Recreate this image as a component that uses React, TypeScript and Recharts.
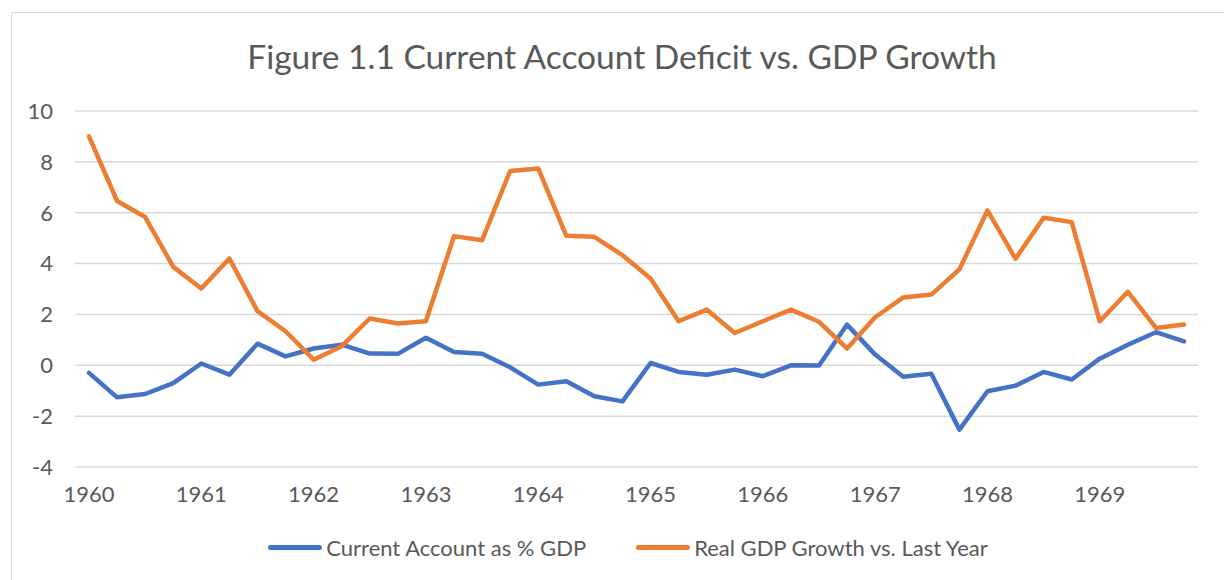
import React from "react";
import { LineChart, Line, XAxis, YAxis, CartesianGrid, Legend } from "recharts";

// quarterly observations, 1960Q1 .. 1969Q4
const years = ["1960", "1961", "1962", "1963", "1964", "1965", "1966", "1967", "1968", "1969"];

const currentAccount = [
  -0.3, -1.26, -1.13, -0.7, 0.07, -0.37, 0.85, 0.35, 0.66, 0.81,
  0.46, 0.45, 1.08, 0.52, 0.45, -0.08, -0.76, -0.63, -1.22, -1.42,
  0.09, -0.26, -0.37, -0.17, -0.43, 0.0, -0.01, 1.6, 0.42, -0.45,
  -0.33, -2.53, -1.02, -0.8, -0.26, -0.56, 0.26, 0.81, 1.3, 0.94,
];

const gdpGrowth = [
  9.0, 6.46, 5.83, 3.87, 3.02, 4.2, 2.13, 1.34, 0.22, 0.75,
  1.84, 1.64, 1.73, 5.08, 4.92, 7.64, 7.74, 5.09, 5.05, 4.33,
  3.41, 1.73, 2.19, 1.27, 1.73, 2.19, 1.71, 0.66, 1.89, 2.67,
  2.78, 3.77, 6.09, 4.19, 5.8, 5.63, 1.73, 2.89, 1.47, 1.6,
];

const yTicks = [-4, -2, 0, 2, 4, 6, 8, 10];

const FONT = "Lato, 'Open Sans', sans-serif";
const TEXT = "#595959";
const BLUE = "#4472C4";
const ORANGE = "#ED7D31";

const data = currentAccount.map((ca, i) => ({
  q: i,
  ca,
  gdp: gdpGrowth[i],
}));

const yearLabel = (i: number) => (i % 4 === 0 ? years[i / 4] : "");

function LegendContent({ payload }: any) {
  return (
    <div style={{ display: "flex", justifyContent: "center", gap: 50, fontFamily: FONT, fontSize: 22, color: TEXT, paddingLeft: 32 }}>
      {(payload || []).map((p: any) => (
        <div key={p.value} style={{ display: "flex", alignItems: "center" }}>
          <div style={{ width: 54, height: 4.5, borderRadius: 2.5, background: p.color, marginRight: 4 }} />
          <span>{p.value}</span>
        </div>
      ))}
    </div>
  );
}

export default function App() {
  return (
    <div style={{ position: "absolute", left: 0, top: 0, width: 1224, height: 580, background: "#fff", overflow: "hidden" }}>
      <div style={{ position: "absolute", left: 11, top: 12, width: 1300, height: 700, border: "1.5px solid #D9D9D9" }} />
      <div
        style={{
          position: "absolute", left: 0, right: 0, top: 36, textAlign: "center",
          fontFamily: FONT, fontSize: 33.5, color: TEXT, paddingLeft: 20,
        }}
      >
        Figure 1.1 Current Account Deficit vs. GDP Growth
      </div>
      <LineChart
        width={1224}
        height={580}
        data={data}
        margin={{ top: 111, right: 26, left: 15, bottom: 56 }}
        style={{ position: "absolute", left: 0, top: 0 }}
      >
        <CartesianGrid vertical={false} stroke="#D9D9D9" strokeWidth={1.5} />
        <XAxis
          dataKey="q"
          type="category"
          interval={0}
          tickFormatter={yearLabel}
          axisLine={false}
          tickLine={false}
          padding={{ left: 14, right: 14 }}
          height={30}
          tick={{ fontSize: 22, fill: TEXT, fontFamily: FONT }}
          tickMargin={13}
        />
        <YAxis
          domain={[-4, 10]}
          ticks={yTicks}
          interval={0}
          axisLine={false}
          tickLine={false}
          width={60}
          tickMargin={16}
          tick={{ fontSize: 22, fill: TEXT, fontFamily: FONT }}
        />
        <Legend
          verticalAlign="bottom"
          content={<LegendContent />}
          wrapperStyle={{ position: "absolute", left: 0, width: 1224, top: 534 }}
        />
        <Line
          type="linear"
          dataKey="ca"
          name="Current Account as % GDP"
          stroke={BLUE}
          strokeWidth={4.5}
          strokeLinecap="round"
          strokeLinejoin="round"
          dot={false}
          isAnimationActive={false}
        />
        <Line
          type="linear"
          dataKey="gdp"
          name="Real GDP Growth vs. Last Year"
          stroke={ORANGE}
          strokeWidth={4.5}
          strokeLinecap="round"
          strokeLinejoin="round"
          dot={false}
          isAnimationActive={false}
        />
      </LineChart>
    </div>
  );
}
